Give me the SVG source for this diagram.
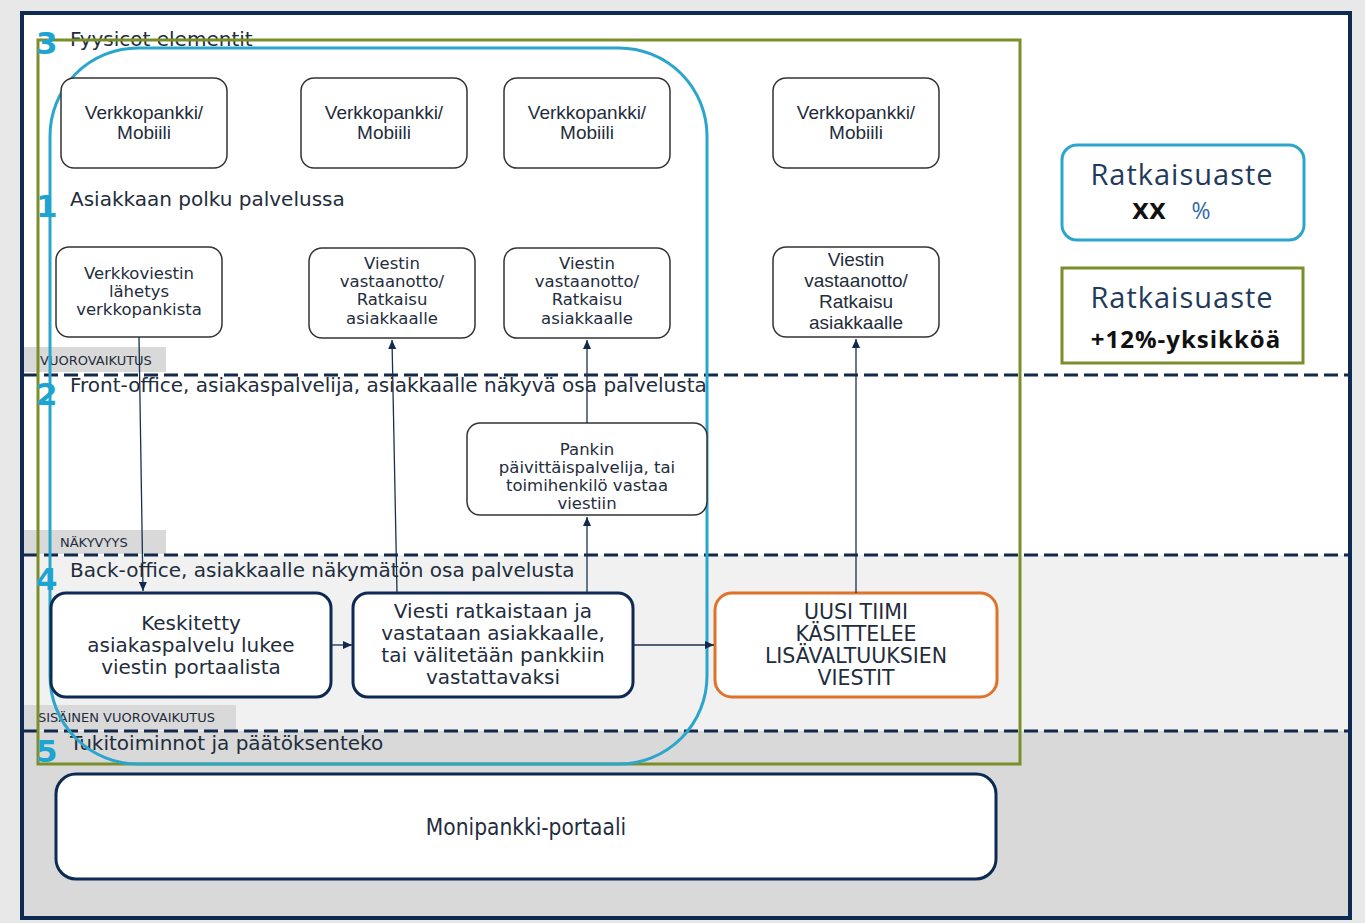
<svg xmlns="http://www.w3.org/2000/svg" width="1365" height="923" viewBox="0 0 1365 923">
<defs>
<style>
.bg{fill:#e8e8e8}
.lane{font-family:"DejaVu Sans",Verdana,sans-serif;font-size:20px;fill:#1f2d3d}
.num{font-family:"DejaVu Sans",Verdana,sans-serif;font-size:31px;font-weight:bold;fill:#1ea4d0}
.tab{fill:#d9d9d9}
.tabt{font-family:"DejaVu Sans",Verdana,sans-serif;font-size:13px;fill:#1f2d3d}
.dash{stroke:#13294b;stroke-width:3;stroke-dasharray:14 6;fill:none}
.box{fill:#ffffff;stroke:#333333;stroke-width:1.5}
.bbox{fill:#ffffff;stroke:#0d2a52;stroke-width:3}
.t16{font-family:"Liberation Sans",Arial,sans-serif;font-size:19px;fill:#1f2d3d;text-anchor:middle}
.t15{font-family:"DejaVu Sans",Verdana,sans-serif;font-size:16.5px;fill:#1f2d3d;text-anchor:middle}
.t17{font-family:"DejaVu Sans",Verdana,sans-serif;font-size:20px;fill:#1f2d3d;text-anchor:middle}
.t21{font-family:"DejaVu Sans",Verdana,sans-serif;font-size:20.5px;fill:#1f2d3d;text-anchor:middle}
.conn{stroke:#1a3050;stroke-width:1.3;fill:none}
.big{font-family:"Open Sans","Noto Sans",sans-serif;font-size:29px;letter-spacing:1px;fill:#1f3a5a;text-anchor:middle}
</style>
<marker id="ar" markerUnits="userSpaceOnUse" markerWidth="9" markerHeight="8" refX="9" refY="4" orient="auto">
<path d="M0,0 L9,4 L0,8 z" fill="#13294b"/>
</marker>
</defs>

<!-- backgrounds -->
<rect x="0" y="0" width="1365" height="923" class="bg"/>
<rect x="22" y="13" width="1328" height="542" fill="#ffffff"/>
<rect x="22" y="555" width="1328" height="176" fill="#f1f1f1"/>
<rect x="22" y="731" width="1328" height="187" fill="#d9d9d9"/>
<rect x="22" y="13" width="1328" height="905" fill="none" stroke="#0d2a52" stroke-width="4"/>

<!-- lane tabs -->
<g id="tabs">
<rect x="24" y="347" width="142" height="25" class="tab"/>
<text x="40" y="365" class="tabt">VUOROVAIKUTUS</text>
<rect x="24" y="530" width="142" height="24" class="tab"/>
<text x="60" y="547" class="tabt">NÄKYVYYS</text>
<rect x="24" y="705" width="212" height="25" class="tab"/>
<text x="38" y="722" class="tabt">SISÄINEN VUOROVAIKUTUS</text>
</g>

<!-- dashed lane separators -->
<g id="separators">
<line x1="24" y1="375" x2="1348" y2="375" class="dash"/>
<line x1="24" y1="555" x2="1348" y2="555" class="dash"/>
<line x1="24" y1="731" x2="1348" y2="731" class="dash"/>
</g>

<!-- lane headings -->
<g id="headings">
<text x="70" y="46" class="lane">Fyysicot elementit</text>
<text x="70" y="206" class="lane">Asiakkaan polku palvelussa</text>
<text x="70" y="392" class="lane">Front-office, asiakaspalvelija, asiakkaalle näkyvä osa palvelusta</text>
<text x="70" y="577" class="lane">Back-office, asiakkaalle näkymätön osa palvelusta</text>
<text x="70" y="750" class="lane">Tukitoiminnot ja päätöksenteko</text>
</g>

<!-- green and cyan frames -->
<rect id="green-frame" x="38" y="40" width="982" height="724" fill="none" stroke="#7a8f2a" stroke-width="3"/>
<rect id="cyan-frame" x="50" y="48" width="657" height="716" rx="88" ry="88" fill="none" stroke="#2aa6cc" stroke-width="3"/>

<g id="numbers">
<text x="36" y="54" class="num">3</text>
<text x="36" y="217" class="num">1</text>
<text x="36" y="405" class="num">2</text>
<text x="36" y="590" class="num">4</text>
<text x="36" y="762" class="num">5</text>
</g>

<!-- top row -->
<g id="vp1"><rect x="61" y="78" width="166" height="90" rx="13" class="box"/>
<text x="144" y="119" class="t16">Verkkopankki/</text><text x="144" y="139" class="t16">Mobiili</text></g>
<g id="vp2"><rect x="301" y="78" width="166" height="90" rx="13" class="box"/>
<text x="384" y="119" class="t16">Verkkopankki/</text><text x="384" y="139" class="t16">Mobiili</text></g>
<g id="vp3"><rect x="504" y="78" width="166" height="90" rx="13" class="box"/>
<text x="587" y="119" class="t16">Verkkopankki/</text><text x="587" y="139" class="t16">Mobiili</text></g>
<g id="vp4"><rect x="773" y="78" width="166" height="90" rx="13" class="box"/>
<text x="856" y="119" class="t16">Verkkopankki/</text><text x="856" y="139" class="t16">Mobiili</text></g>

<!-- second row -->
<g id="verkkoviestin"><rect x="56" y="247" width="166" height="90" rx="13" class="box"/>
<text x="139" y="279" class="t15">Verkkoviestin</text><text x="139" y="297" class="t15">lähetys</text><text x="139" y="315" class="t15">verkkopankista</text></g>
<g id="viestin1"><rect x="309" y="248" width="166" height="90" rx="13" class="box"/>
<text x="392" y="269" class="t15">Viestin</text><text x="392" y="287" class="t15">vastaanotto/</text><text x="392" y="305" class="t15">Ratkaisu</text><text x="392" y="324" class="t15">asiakkaalle</text></g>
<g id="viestin2"><rect x="504" y="248" width="166" height="90" rx="13" class="box"/>
<text x="587" y="269" class="t15">Viestin</text><text x="587" y="287" class="t15">vastaanotto/</text><text x="587" y="305" class="t15">Ratkaisu</text><text x="587" y="324" class="t15">asiakkaalle</text></g>
<g id="viestin3"><rect x="773" y="247" width="166" height="90" rx="13" class="box"/>
<text x="856" y="266" class="t16">Viestin</text><text x="856" y="287" class="t16">vastaanotto/</text><text x="856" y="308" class="t16">Ratkaisu</text><text x="856" y="329" class="t16">asiakkaalle</text></g>

<!-- front office -->
<g id="pankin"><rect x="467" y="423" width="240" height="92" rx="13" class="box"/>
<text x="587" y="455" class="t15">Pankin</text><text x="587" y="473" class="t15">päivittäispalvelija, tai</text><text x="587" y="491" class="t15">toimihenkilö vastaa</text><text x="587" y="509" class="t15">viestiin</text></g>

<!-- back office -->
<g id="keskitetty"><rect x="51" y="593" width="280" height="104" rx="15" class="bbox"/>
<text x="191" y="630" class="t17">Keskitetty</text><text x="191" y="652" class="t17">asiakaspalvelu lukee</text><text x="191" y="674" class="t17">viestin portaalista</text></g>
<g id="ratkaistaan"><rect x="353" y="593" width="280" height="104" rx="15" class="bbox"/>
<text x="493" y="618" class="t17">Viesti ratkaistaan ja</text><text x="493" y="640" class="t17">vastataan asiakkaalle,</text><text x="493" y="662" class="t17">tai välitetään pankkiin</text><text x="493" y="684" class="t17">vastattavaksi</text></g>
<g id="uusitiimi"><rect x="715" y="593" width="282" height="104" rx="17" fill="#ffffff" stroke="#e0732a" stroke-width="3"/>
<text x="856" y="619" class="t21">UUSI TIIMI</text><text x="856" y="641" class="t21">KÄSITTELEE</text><text x="856" y="663" class="t21">LISÄVALTUUKSIEN</text><text x="856" y="685" class="t21">VIESTIT</text></g>

<!-- support -->
<g id="monipankki"><rect x="56" y="774" width="940" height="105" rx="20" class="bbox"/>
<text x="526" y="835" font-family="'DejaVu Sans Condensed','DejaVu Sans',sans-serif" font-size="22.5" fill="#1f2d3d" text-anchor="middle">Monipankki-portaali</text></g>

<!-- KPI boxes -->
<g id="kpi1"><rect x="1062" y="145" width="242" height="95" rx="15" fill="#ffffff" stroke="#2aa6cc" stroke-width="3"/>
<text x="1182" y="185" class="big">Ratkaisuaste</text>
<text x="1149" y="219" font-family="'DejaVu Sans',sans-serif" font-size="22" font-weight="bold" fill="#111111" text-anchor="middle">XX</text>
<text x="1201" y="219" font-family="'Open Sans','Noto Sans',sans-serif" font-size="23" fill="#2f6aa8" text-anchor="middle">%</text></g>
<g id="kpi2"><rect x="1062" y="268" width="241" height="95" fill="#ffffff" stroke="#7a8f2a" stroke-width="3"/>
<text x="1182" y="308" class="big">Ratkaisuaste</text>
<text x="1186" y="348" font-family="'Open Sans','Noto Sans',sans-serif" font-size="24" font-weight="bold" letter-spacing="1" fill="#111111" text-anchor="middle">+12%-yksikköä</text></g>

<!-- connectors -->
<g id="connectors">
<line x1="139" y1="337" x2="143" y2="591" class="conn" marker-end="url(#ar)"/>
<line x1="397" y1="593" x2="392" y2="340" class="conn" marker-end="url(#ar)"/>
<line x1="587" y1="593" x2="587" y2="517" class="conn" marker-end="url(#ar)"/>
<line x1="587" y1="423" x2="587" y2="340" class="conn" marker-end="url(#ar)"/>
<line x1="856" y1="593" x2="856" y2="339" class="conn" marker-end="url(#ar)"/>
<line x1="331" y1="645" x2="352" y2="645" class="conn" marker-end="url(#ar)"/>
<line x1="633" y1="645" x2="714" y2="645" class="conn" marker-end="url(#ar)"/>
</g>
</svg>
